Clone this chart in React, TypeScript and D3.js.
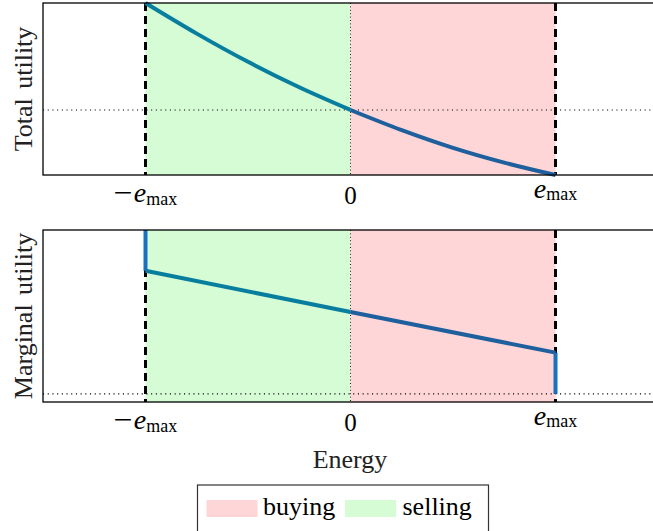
import React from "react";
import * as d3 from "d3";

// ---- data ----
const energy = [-1, -0.75, -0.5, -0.25, 0, 0.25, 0.5, 0.75, 1];
const totalUtility = [1.0, 0.822, 0.658, 0.51, 0.378, 0.261, 0.158, 0.072, 0.0];
const marginalEnergy = [-1, 0, 1];
const marginalUtility = [0.763, 0.523, 0.287];
const leftJump = [1.0, 0.763]; // at e = -emax
const rightJump = [0.287, 0.047]; // at e = +emax
const totalRef = 0.378;
const marginalRef = 0.047;
const tickValues = [-1, 0, 1];
const legendItems = ["buying", "selling"];

const W = 653;
const H = 531;
const FONT = "'Liberation Serif', 'DejaVu Serif', serif";
const SELL = "#d6fcd6";
const BUY = "#ffd6d7";
const TEAL = "#087e9e";
const BLUE = "#1e5f9e";
const VBLUE = "#1a70bc";

const x = d3.scaleLinear().domain([-1.5, 1.5]).range([43, 658]);

function Panel({ top, bottom, label, kind }: { top: number; bottom: number; label: string; kind: "total" | "marginal" }) {
  const y = d3.scaleLinear().domain([0, 1]).range([bottom, top]);
  const line = d3.line<[number, number]>().x((d) => x(d[0])).y((d) => y(d[1])).curve(d3.curveMonotoneX);
  const x0 = x.range()[0];
  const x1 = x.range()[1];
  const sellPts: [number, number][] = [];
  const buyPts: [number, number][] = [];
  let ref = 0;
  if (kind === "total") {
    energy.forEach((e, i) => {
      if (e <= 0) sellPts.push([e, totalUtility[i]]);
      if (e >= 0) buyPts.push([e, totalUtility[i]]);
    });
    ref = totalRef;
  } else {
    marginalEnergy.forEach((e, i) => {
      if (e <= 0) sellPts.push([e, marginalUtility[i]]);
      if (e >= 0) buyPts.push([e, marginalUtility[i]]);
    });
    ref = marginalRef;
  }
  const cy = (top + bottom) / 2;
  return (
    <g>
      <rect x={x(-1)} y={top} width={x(0) - x(-1)} height={bottom - top} fill={SELL} />
      <rect x={x(0)} y={top} width={x(1) - x(0)} height={bottom - top} fill={BUY} />
      <line x1={x(0)} x2={x(0)} y1={top} y2={bottom} stroke="#222" strokeWidth={1} strokeDasharray="1,2.4" />
      <line x1={x0} x2={x1} y1={y(ref)} y2={y(ref)} stroke="#000" strokeWidth={1.1} strokeDasharray="1.1,3.6" />
      {[-1, 1].map((v) => (
        <line key={v} x1={x(v)} x2={x(v)} y1={top} y2={bottom} stroke="#000" strokeWidth={3} strokeDasharray="8,5" />
      ))}
      <path d={line(sellPts) || ""} fill="none" stroke={TEAL} strokeWidth={4} strokeLinecap="butt" />
      <path d={line(buyPts) || ""} fill="none" stroke={BLUE} strokeWidth={4} strokeLinecap="butt" />
      {kind === "marginal" && (
        <g>
          <line x1={x(-1)} x2={x(-1)} y1={y(leftJump[0])} y2={y(leftJump[1])} stroke={VBLUE} strokeWidth={4} />
          <line x1={x(1)} x2={x(1)} y1={y(rightJump[0])} y2={y(rightJump[1])} stroke={VBLUE} strokeWidth={4} />
        </g>
      )}
      <rect x={x0} y={top} width={x1 - x0} height={bottom - top} fill="none" stroke="#000" strokeWidth={1.3} />
      {tickValues.map((v, i) => {
        if (v === 0) {
          return (
            <text key={i} x={x(v)} y={bottom + 28.5} textAnchor="middle" fontFamily={FONT} fontSize={25}>
              0
            </text>
          );
        }
        const neg = v < 0;
        return (
          <text key={i} x={x(v)} y={bottom + (neg ? 27 : 22.5)} textAnchor="middle" fontFamily={FONT} fontSize={28}>
            {neg ? (
              <tspan textLength={19} lengthAdjust="spacingAndGlyphs">
                −
              </tspan>
            ) : null}
            <tspan fontStyle="italic" dx={neg ? 1 : 0}>e</tspan>
            <tspan fontSize={18} dy={2.5}>max</tspan>
          </text>
        );
      })}
      <text
        transform={`translate(32,${cy}) rotate(-90)`}
        textAnchor="middle"
        fontFamily={FONT}
        fontSize={26}
        fill="#222"
        wordSpacing={3}
      >
        {label}
      </text>
    </g>
  );
}

export default function App() {
  return (
    <svg
      width={W}
      height={H}
      style={{ position: "absolute", left: 0, top: 0, background: "#fff" }}
      xmlns="http://www.w3.org/2000/svg"
    >
      <Panel top={3} bottom={175} label="Total utility" kind="total" />
      <Panel top={230} bottom={402} label="Marginal utility" kind="marginal" />
      <text x={350} y={468} textAnchor="middle" fontFamily={FONT} fontSize={26} fill="#222">
        Energy
      </text>
      <rect x={197.5} y={485} width={291} height={60} fill="#fff" stroke="#333" strokeWidth={1.2} />
      <rect x={206.5} y={500} width={51} height={17} fill={BUY} />
      <text x={263} y={515} fontFamily={FONT} fontSize={26}>
        {legendItems[0]}
      </text>
      <rect x={345} y={500} width={51} height={17} fill={SELL} />
      <text x={402.5} y={515} fontFamily={FONT} fontSize={26}>
        {legendItems[1]}
      </text>
    </svg>
  );
}
